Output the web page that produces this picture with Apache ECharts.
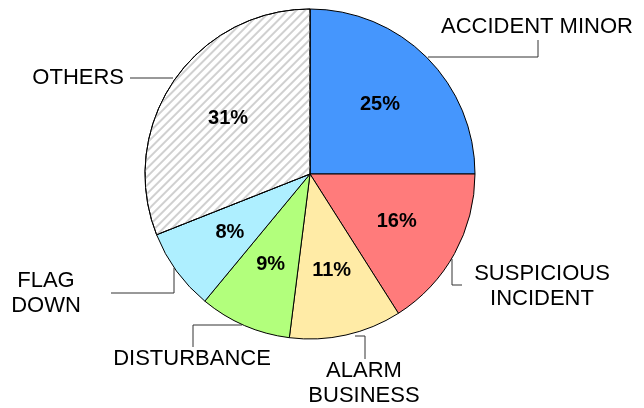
<!DOCTYPE html>
<html>
<head>
<meta charset="utf-8">
<script src="https://cdn.jsdelivr.net/npm/echarts@6/dist/echarts.min.js"></script>
<style>
  html, body { margin: 0; padding: 0; background: #fff; }
  #chart { width: 644px; height: 408px; }
</style>
</head>
<body>
<div id="chart"></div>
<script>
// data
var categories = ['ACCIDENT MINOR', 'SUSPICIOUS\nINCIDENT', 'ALARM\nBUSINESS', 'DISTURBANCE', 'FLAG\nDOWN', 'OTHERS'];
var values = [25, 16, 11, 9, 8, 31];
var colors = ['#4596fd', '#ff7b7b', '#ffeba6', '#b2ff7c', '#aeefff', '#ffffff'];

// where the outer labels sit and how their leader lines bend
var labelSpots = [
    {x: 537, y: 27, align: 'center', line: [[428, 57], [538, 57], [538, 40]]},
    {x: 542, y: 286, align: 'center', line: [[452, 259], [452, 285], [462, 285]]},
    {x: 364, y: 383, align: 'center', line: [[355, 336], [365, 336], [365, 359]]},
    {x: 192, y: 359, align: 'center', line: [[242, 325], [193, 325], [193, 347]]},
    {x: 46, y: 293, align: 'center', line: [[174, 268], [174, 293], [111, 293]]},
    {x: 124, y: 78, align: 'right', line: [[173, 78], [130, 78]]}
];

var center = [310, 174];
var radius = 165;

var pieData = [];
var ghostData = [];
for (var i = 0; i < values.length; i++) {
    var item = {
        name: categories[i],
        value: values[i],
        itemStyle: {color: colors[i]}
    };
    if (i === values.length - 1) {
        item.itemStyle.decal = {
            symbol: 'rect',
            symbolSize: 1,
            dashArrayX: [[1, 0]],
            dashArrayY: [2, 4],
            rotation: -Math.PI / 4,
            color: '#d0d0d0'
        };
    }
    pieData.push(item);
    ghostData.push({name: categories[i], value: values[i]});
}

var myChart = echarts.init(document.getElementById('chart'), null, {renderer: 'canvas'});
var option = {
    backgroundColor: '#fff',
    animation: false,
    series: [
        {
            type: 'pie',
            center: center,
            radius: radius,
            startAngle: 90,
            clockwise: true,
            silent: true,
            data: pieData,
            itemStyle: {borderColor: '#000', borderWidth: 1},
            label: {
                show: true,
                position: 'outside',
                formatter: '{b}',
                overflow: 'none',
                color: '#000',
                fontFamily: 'Liberation Sans, Arial, sans-serif',
                fontSize: 22,
                lineHeight: 25
            },
            labelLine: {
                show: true,
                lineStyle: {color: '#333', width: 1}
            },
            labelLayout: function (params) {
                var s = labelSpots[params.dataIndex];
                return {
                    x: s.x,
                    y: s.y,
                    align: s.align,
                    verticalAlign: 'middle',
                    labelLinePoints: s.line
                };
            }
        },
        { // percent labels, sat a bit further out than the default
            type: 'pie',
            center: center,
            radius: 192,
            startAngle: 90,
            clockwise: true,
            silent: true,
            z: 3,
            data: ghostData,
            itemStyle: {color: 'rgba(0,0,0,0)', borderWidth: 0},
            label: {
                show: true,
                position: 'inside',
                formatter: '{c}%',
                color: '#000',
                fontWeight: 'bold',
                fontFamily: 'Liberation Sans, Arial, sans-serif',
                fontSize: 20
            },
            labelLine: {show: false}
        }
    ]
};
myChart.setOption(option);
</script>
</body>
</html>
